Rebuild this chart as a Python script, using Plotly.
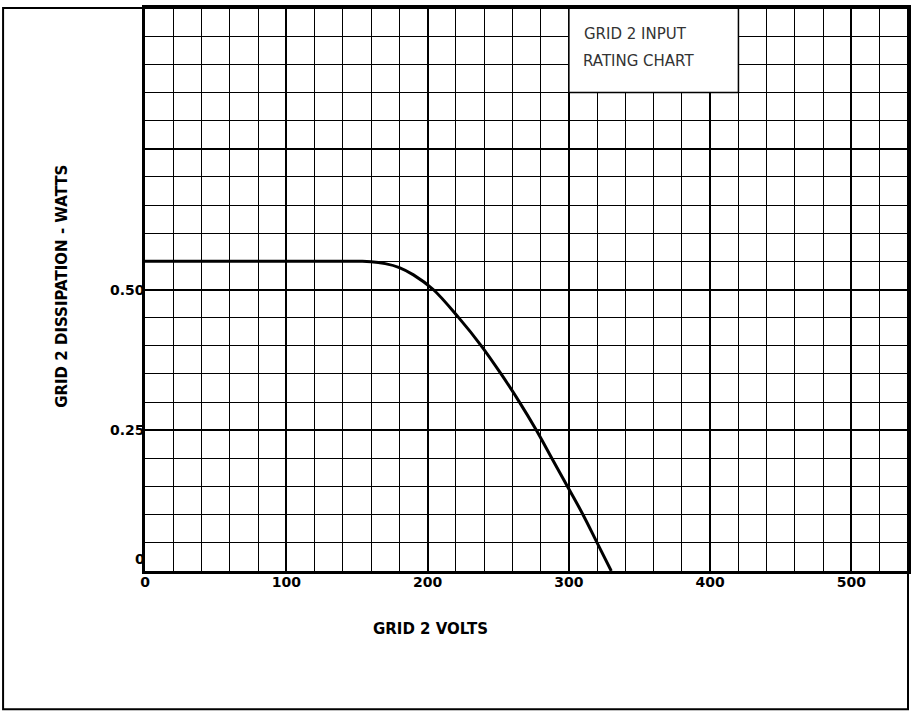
import plotly.graph_objects as go

# Data
volts = [0, 150, 160, 170, 180, 190, 204, 222, 238, 252, 265, 277, 288, 299, 310, 320, 330]
watts = [0.55, 0.55, 0.5495, 0.546, 0.539, 0.526, 0.50, 0.45, 0.40, 0.35, 0.30, 0.25,
         0.20, 0.15, 0.10, 0.05, 0.0]

x_tickvals = [0, 100, 200, 300, 400, 500]
x_ticktext = ["0", "100", "200", "300", "400", "500"]
y_tickvals = [0, 0.25, 0.50, 0.75]
y_ticktext = ["0", "0.25", "0.50", ""]

TICKFONT = dict(family="DejaVu Sans", size=14, color="black", weight="bold")
TITLEFONT = dict(family="DejaVu Sans", size=15, color="black", weight="bold")
BOXFONT = dict(family="DejaVu Sans", size=15, color="#333333")

fig = go.Figure()
fig.add_trace(go.Scatter(
    x=volts, y=watts, mode="lines",
    line=dict(color="black", width=3, shape="spline", smoothing=1.0),
    showlegend=False, hoverinfo="skip",
))

# y tick labels as annotations (the "0" label sits inside the bottom row)
label_offsets = {"0": 0.021}
annotations = []
for v, t in zip(y_tickvals, y_ticktext):
    if t:
        annotations.append(dict(text=t, x=0.002, y=v + label_offsets.get(t, 0), xref="paper", yref="y",
                                xanchor="right", showarrow=False, font=TICKFONT))

annotations += [
    dict(text="GRID 2 INPUT", x=347, y=0.953, xref="x", yref="y", showarrow=False, font=BOXFONT),
    dict(text="RATING CHART", x=349, y=0.905, xref="x", yref="y", showarrow=False, font=BOXFONT),
    dict(text="GRID 2 VOLTS", x=0.374, y=-0.122, xref="paper", yref="paper",
         showarrow=False, font=TITLEFONT),
    dict(text="GRID 2 DISSIPATION - WATTS", x=-0.123, y=0.505, xref="paper", yref="paper",
         textangle=-90, showarrow=False, font=TITLEFONT),
]

fig.update_layout(
    width=916, height=713,
    margin=dict(l=145, r=7, t=5, b=142),
    paper_bgcolor="white", plot_bgcolor="white",
    xaxis=dict(
        range=[0, 540], tickvals=x_tickvals, ticktext=x_ticktext,
        showgrid=True, gridcolor="black", gridwidth=2.2,
        minor=dict(tick0=0, dtick=20, showgrid=True, gridcolor="black", gridwidth=1.2),
        showline=True, linecolor="black", linewidth=2.5, mirror=True,
        ticks="", tickfont=TICKFONT, zeroline=False, fixedrange=True,
        ticklabelstandoff=-4,
    ),
    yaxis=dict(
        range=[0, 1], tickvals=y_tickvals, showticklabels=False,
        showgrid=True, gridcolor="black", gridwidth=2.2,
        minor=dict(tick0=0, dtick=0.05, showgrid=True, gridcolor="black", gridwidth=1.2),
        showline=True, linecolor="black", linewidth=2.5, mirror=True,
        ticks="", zeroline=False, fixedrange=True,
    ),
    shapes=[
        # label box covering grid
        dict(type="rect", xref="x", yref="y", x0=300, x1=420, y0=0.85, y1=1.0,
             fillcolor="white", line=dict(color="black", width=1.5), layer="above"),
        # outer frame
        dict(type="rect", xref="paper", yref="paper", x0=-0.186, x1=1.0, y0=-0.2456, y1=1.0,
             fillcolor="rgba(0,0,0,0)", line=dict(color="black", width=2), layer="above"),
    ],
    annotations=annotations,
)

fig.write_html("out.html", config={"displayModeBar": False},
               post_script="document.body.style.margin='0';document.body.style.overflow='hidden';")
